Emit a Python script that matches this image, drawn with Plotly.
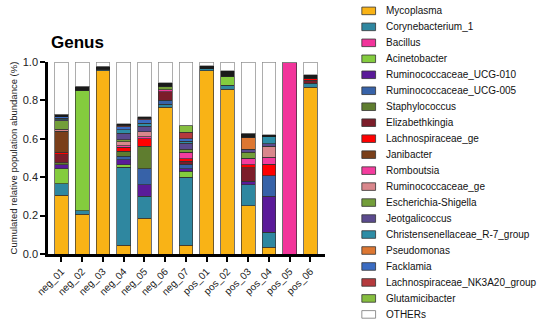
import plotly.graph_objects as go

samples = ["neg_01", "neg_02", "neg_03", "neg_04", "neg_05", "neg_06", "neg_07",
           "pos_01", "pos_02", "pos_03", "pos_04", "pos_05", "pos_06"]

genera = ["Mycoplasma", "Corynebacterium_1", "Bacillus", "Acinetobacter",
          "Ruminococcaceae_UCG-010", "Ruminococcaceae_UCG-005", "Staphylococcus",
          "Elizabethkingia", "Lachnospiraceae_ge", "Janibacter", "Romboutsia",
          "Ruminococcaceae_ge", "Escherichia-Shigella", "Jeotgalicoccus",
          "Christensenellaceae_R-7_group", "Pseudomonas", "Facklamia",
          "Lachnospiraceae_NK3A20_group", "Glutamicibacter", "OTHERs"]

colors = ["#F9B316", "#2F87A0", "#F2349B", "#84CC3E", "#5A1A99", "#3762A8",
          "#5F7D2F", "#7C1D2A", "#FF0000", "#7A3F1A", "#F43C9E", "#D9878C",
          "#739E3A", "#5B4A8E", "#2E8DA6", "#DD7732", "#3B6CC2", "#B53A3D",
          "#86BE3F", "#FFFFFF"]

# relative abundance per genus, one value per sample (same order as samples)
Mycoplasma = [0.305, 0.208, 0.955, 0.045, 0.187, 0.765, 0.045, 0.955, 0.859, 0.252, 0.036, 0.0, 0.868]
Corynebacterium_1 = [0.060, 0.017, 0.008, 0.408, 0.113, 0.015, 0.355, 0.010, 0.021, 0.108, 0.077, 0.0, 0.022]
Bacillus = [0, 0, 0, 0, 0, 0, 0, 0, 0, 0, 0, 0.995, 0]
Acinetobacter = [0.078, 0.629, 0, 0.012, 0, 0, 0.030, 0, 0.045, 0, 0, 0, 0]
Ruminococcaceae_UCG_010 = [0.022, 0, 0, 0.025, 0.060, 0, 0.015, 0, 0, 0.020, 0.187, 0, 0]
Ruminococcaceae_UCG_005 = [0, 0, 0, 0.020, 0.083, 0.020, 0.023, 0, 0, 0, 0.108, 0, 0]
Staphylococcus = [0.010, 0, 0, 0.025, 0.117, 0, 0, 0, 0, 0, 0, 0, 0]
Elizabethkingia = [0.042, 0, 0, 0, 0, 0.044, 0.014, 0, 0, 0.068, 0, 0, 0.015]
Lachnospiraceae_ge = [0.013, 0, 0, 0.020, 0.039, 0, 0.015, 0, 0, 0.017, 0.060, 0, 0.010]
Janibacter = [0.110, 0, 0, 0, 0, 0, 0, 0, 0, 0, 0, 0, 0]
Romboutsia = [0, 0, 0, 0.010, 0.011, 0.012, 0.033, 0, 0, 0.035, 0.037, 0, 0]
Ruminococcaceae_ge = [0.010, 0, 0, 0.020, 0.028, 0, 0, 0, 0, 0, 0.055, 0, 0]
Escherichia_Shigella = [0.045, 0, 0, 0.010, 0, 0.017, 0.015, 0, 0, 0.030, 0, 0, 0]
Jeotgalicoccus = [0.005, 0, 0, 0.035, 0.027, 0, 0.033, 0, 0, 0.015, 0.015, 0, 0]
Christensenellaceae_R7 = [0.008, 0, 0, 0.017, 0.015, 0, 0.010, 0, 0, 0, 0.035, 0, 0]
Pseudomonas = [0, 0, 0, 0, 0, 0, 0, 0, 0, 0.062, 0, 0, 0]
Facklamia = [0.007, 0, 0, 0.015, 0.020, 0, 0.012, 0, 0, 0, 0, 0, 0]
Lachnospiraceae_NK3A20 = [0, 0, 0, 0.008, 0.008, 0, 0.035, 0, 0, 0, 0, 0, 0]
Glutamicibacter = [0, 0, 0, 0, 0, 0, 0.035, 0, 0, 0, 0, 0, 0]
minor_taxa = [0.012, 0.019, 0.014, 0.008, 0.007, 0.020, 0, 0.015, 0.030, 0.023, 0.010, 0.005, 0.019]
OTHERs = [0.273, 0.127, 0.023, 0.322, 0.285, 0.107, 0.330, 0.020, 0.045, 0.370, 0.380, 0.0, 0.066]

series = [Mycoplasma, Corynebacterium_1, Bacillus, Acinetobacter, Ruminococcaceae_UCG_010,
          Ruminococcaceae_UCG_005, Staphylococcus, Elizabethkingia, Lachnospiraceae_ge,
          Janibacter, Romboutsia, Ruminococcaceae_ge, Escherichia_Shigella, Jeotgalicoccus,
          Christensenellaceae_R7, Pseudomonas, Facklamia, Lachnospiraceae_NK3A20,
          Glutamicibacter, OTHERs]

y_ticks = [0.0, 0.2, 0.4, 0.6, 0.8, 1.0]

FONT = "Liberation Sans, Arial, sans-serif"

# plot area in window pixels
PL, PR, PT, PB = 43, 325, 62, 254.3
PW, PH = PR - PL, PB - PT

fig = go.Figure()
for i, (name, vals, col) in enumerate(zip(genera, series, colors)):
    if name == "OTHERs":
        fig.add_trace(go.Bar(x=samples, y=minor_taxa, name="minor", showlegend=False,
                             marker=dict(color="#1a1a1a", line=dict(color="#1a1a1a", width=0.6))))
    line_col = "#8a8a8a" if name == "OTHERs" else "#333333"
    fig.add_trace(go.Bar(x=samples, y=vals, name=name, showlegend=False,
                         marker=dict(color=col, line=dict(color=line_col, width=0.7))))

def px_x(x):
    return (x - PL) / PW

def px_y(y):
    return 1 - (y - PT) / PH

# compact manual legend
shapes = []
annots = []
for i, (name, col) in enumerate(zip(genera, colors)):
    yc = 10.8 + 16.0 * i
    shapes.append(dict(type="rect", xref="paper", yref="paper",
                       x0=px_x(362.5), x1=px_x(376.5), y0=px_y(yc - 3.8), y1=px_y(yc + 3.8),
                       fillcolor=col,
                       line=dict(color="#333333" if name != "OTHERs" else "#777777", width=0.8)))
    annots.append(dict(xref="paper", yref="paper", x=px_x(385), y=px_y(yc),
                       text=name, showarrow=False, xanchor="left", yanchor="middle",
                       font=dict(family=FONT, size=10, color="#111111")))

annots.append(dict(xref="paper", yref="paper", x=px_x(44.5), y=px_y(42.5),
                   text="<b>Genus</b>", showarrow=False, xanchor="left", yanchor="middle",
                   font=dict(family=FONT, size=17, color="#000000")))

fig.update_layout(
    barmode="stack",
    bargap=0.337,
    width=550, height=326,
    margin=dict(l=PL, r=550 - PR, t=PT, b=326 - PB, pad=0),
    plot_bgcolor="white", paper_bgcolor="white",
    font=dict(family=FONT, color="#222222"),
    shapes=shapes,
    annotations=annots,
    showlegend=False,
    xaxis=dict(range=[-0.65, 12.7], tickangle=-45, showline=True, linecolor="black", linewidth=2.5,
               ticks="outside", ticklen=5, tickwidth=2, tickcolor="black",
               tickfont=dict(family=FONT, size=10, color="#222222"), showgrid=False),
    yaxis=dict(range=[0, 1.0], tickvals=y_ticks, tickformat=".1f", showline=True,
               linecolor="black", linewidth=2.5, ticks="outside", ticklen=5, tickwidth=2,
               tickcolor="black", tickfont=dict(family=FONT, size=11, color="#222222"),
               showgrid=False, zeroline=False,
               title=dict(text="Cumulated relative population abundance (%)",
                          font=dict(family=FONT, size=9.5, color="#222222"), standoff=4)),
)

fig.write_html("out.html", config={"displayModeBar": False},
               post_script="document.body.style.margin='0';")
